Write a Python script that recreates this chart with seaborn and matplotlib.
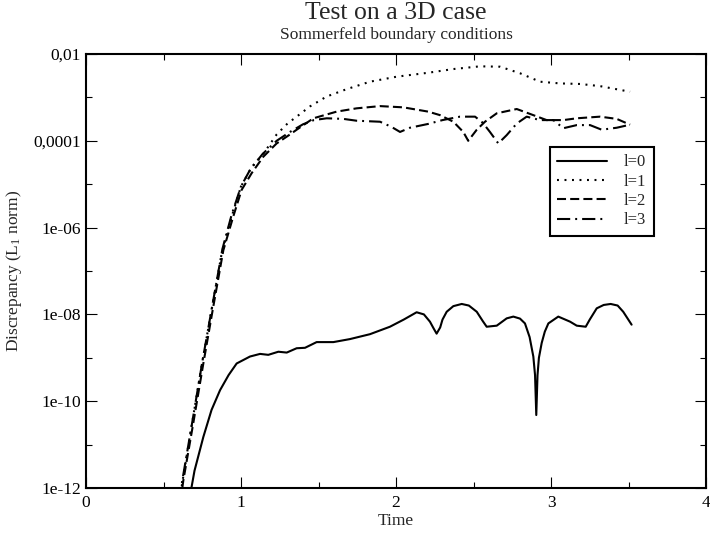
import matplotlib
matplotlib.use("Agg")
import matplotlib.pyplot as plt
import seaborn as sns
from matplotlib.ticker import FixedLocator, FixedFormatter, NullFormatter

# ---------------- data ----------------
t_l0 = [0.665, 0.68, 0.70, 0.757, 0.81, 0.865, 0.92, 0.972, 1.058, 1.123, 1.176,
        1.241, 1.295, 1.359, 1.413, 1.488, 1.596, 1.703, 1.832, 1.961, 2.05, 2.133,
        2.18, 2.219, 2.242, 2.262, 2.285, 2.30, 2.327, 2.37, 2.424, 2.47, 2.521,
        2.56, 2.585, 2.650, 2.714, 2.757, 2.80, 2.832, 2.862, 2.886, 2.897, 2.905,
        2.913, 2.922, 2.94, 2.96, 2.983, 3.047, 3.123, 3.166, 3.224, 3.25, 3.295,
        3.34, 3.385, 3.43, 3.466, 3.52]
v_l0 = [5.0e-13, 1.0e-12, 2.5e-12, 1.5e-11, 6.3e-11, 1.8e-10, 4.0e-10, 7.4e-10,
        1.07e-9, 1.23e-9, 1.17e-9, 1.38e-9, 1.32e-9, 1.66e-9, 1.70e-9, 2.3e-9,
        2.3e-9, 2.7e-9, 3.5e-9, 5.2e-9, 7.6e-9, 1.12e-8, 1.0e-8, 6.8e-9, 4.8e-9,
        3.6e-9, 5.0e-9, 7.6e-9, 1.15e-8, 1.55e-8, 1.74e-8, 1.6e-8, 1.15e-8,
        7.0e-9, 5.2e-9, 5.5e-9, 8.1e-9, 8.9e-9, 8.0e-9, 6.2e-9, 3.0e-9, 1.07e-9,
        4.0e-10, 4.8e-11, 4.0e-10, 1.0e-9, 2.2e-9, 4.0e-9, 6.2e-9, 8.9e-9, 6.8e-9,
        5.5e-9, 5.2e-9, 7.6e-9, 1.38e-8, 1.65e-8, 1.74e-8, 1.6e-8, 1.15e-8, 5.8e-9]

t_l1 = [0.605, 0.62, 0.68, 0.745, 0.81, 0.875, 0.94, 1.0, 1.07, 1.144, 1.23, 1.30,
        1.359, 1.445, 1.553, 1.682, 1.832, 2.004, 2.155, 2.208, 2.370, 2.542,
        2.671, 2.8, 2.929, 3.058, 3.187, 3.316, 3.51]
v_l1 = [5.0e-13, 1.26e-12, 2.5e-11, 6.3e-10, 1.26e-8, 2.5e-7, 1.8e-6, 8.9e-6,
        2.5e-5, 5.0e-5, 1.4e-4, 2.5e-4, 3.6e-4, 6.2e-4, 1.05e-3, 1.55e-3, 2.3e-3,
        3.0e-3, 3.5e-3, 3.7e-3, 4.5e-3, 5.2e-3, 5.1e-3, 3.6e-3, 2.3e-3, 2.1e-3,
        2.04e-3, 1.82e-3, 1.35e-3]

t_l2 = [0.61, 0.628, 0.692, 0.757, 0.821, 0.886, 0.950, 1.004, 1.069, 1.144, 1.230,
        1.316, 1.359, 1.467, 1.617, 1.746, 1.897, 2.047, 2.208, 2.284, 2.370,
        2.434, 2.466, 2.521, 2.574, 2.65, 2.779, 2.886, 2.972, 3.08, 3.166, 3.316,
        3.424, 3.51]
v_l2 = [5.0e-13, 1.5e-12, 3.1e-11, 7.4e-10, 1.5e-8, 3.0e-7, 1.8e-6, 7.4e-6,
        1.8e-5, 4.3e-5, 8.7e-5, 1.4e-4, 1.8e-4, 3.3e-4, 4.7e-4, 5.6e-4, 6.3e-4,
        5.9e-4, 4.7e-4, 3.9e-4, 2.75e-4, 1.6e-4, 1.0e-4, 1.8e-4, 2.75e-4, 4.3e-4,
        5.4e-4, 3.9e-4, 3.0e-4, 3.0e-4, 3.3e-4, 3.6e-4, 3.2e-4, 2.35e-4]

t_l3 = [0.603, 0.62, 0.685, 0.75, 0.815, 0.88, 0.94, 1.0, 1.06, 1.14, 1.23, 1.316,
        1.40, 1.47, 1.553, 1.66, 1.746, 1.897, 1.97, 2.026, 2.09, 2.208, 2.30,
        2.413, 2.51, 2.56, 2.606, 2.66, 2.714, 2.779, 2.843, 2.929, 3.015, 3.08,
        3.166, 3.252, 3.327, 3.424, 3.51]
v_l3 = [5.0e-13, 1.4e-12, 3.2e-11, 7.9e-10, 1.6e-8, 3.2e-7, 2.0e-6, 8.9e-6,
        2.2e-5, 5.0e-5, 1.0e-4, 1.6e-4, 2.4e-4, 3.0e-4, 3.3e-4, 3.2e-4, 2.9e-4,
        2.75e-4, 2.1e-4, 1.6e-4, 2.0e-4, 2.45e-4, 3.0e-4, 3.6e-4, 3.6e-4, 2.6e-4,
        1.6e-4, 8.7e-5, 1.35e-4, 2.5e-4, 3.6e-4, 3.0e-4, 3.0e-4, 1.95e-4, 2.3e-4,
        2.3e-4, 1.8e-4, 2.0e-4, 2.35e-4]

series_labels = ["l=0", "l=1", "l=2", "l=3"]
y_tick_values = [1e-12, 1e-10, 1e-8, 1e-6, 1e-4, 1e-2]
y_tick_labels = ["1e-12", "1e-10", "1e-08", "1e-06", "0,0001", "0,01"]
y_minor_values = [1e-11, 1e-9, 1e-7, 1e-5, 1e-3]
x_tick_values = [0, 1, 2, 3, 4]
x_tick_labels = ["0", "1", "2", "3", "4"]
x_minor_values = [0.5, 1.5, 2.5, 3.5]

# ---------------- style ----------------
sns.set_style("ticks")
plt.rcParams["font.family"] = ["Liberation Serif", "DejaVu Serif"]
plt.rcParams["mathtext.fontset"] = "custom"
plt.rcParams["mathtext.rm"] = "Liberation Serif"
plt.rcParams["mathtext.default"] = "regular"
plt.rcParams["lines.scale_dashes"] = False

fig = plt.figure(figsize=(7.1, 5.35), dpi=100)
ax = fig.add_axes([86 / 710, 1 - 488 / 535, 620 / 710, 434 / 535])

styles = ["-", (0, (1.4, 4.0)), (0, (6.5, 3.0)), (0, (9.5, 3.6, 1.4, 3.6))]
data = [(t_l0, v_l0), (t_l1, v_l1), (t_l2, v_l2), (t_l3, v_l3)]
for (tt, vv), ls, lab in zip(data, styles, series_labels):
    sns.lineplot(x=tt, y=vv, ax=ax, color="black", linewidth=1.5,
                 linestyle=ls, label=lab, sort=False, estimator=None)

ax.set_yscale("log")
ax.set_xlim(0, 4)
ax.set_ylim(1e-12, 1e-2)

ax.yaxis.set_major_locator(FixedLocator(y_tick_values))
ax.yaxis.set_major_formatter(FixedFormatter(y_tick_labels))
ax.yaxis.set_minor_locator(FixedLocator(y_minor_values))
ax.yaxis.set_minor_formatter(NullFormatter())
ax.xaxis.set_major_locator(FixedLocator(x_tick_values))
ax.xaxis.set_major_formatter(FixedFormatter(x_tick_labels))
ax.xaxis.set_minor_locator(FixedLocator(x_minor_values))

ax.tick_params(which="both", direction="in", top=True, right=True,
               color="black", width=0.8, labelsize=12.5, labelcolor="black")
ax.tick_params(which="major", length=8)
ax.tick_params(which="minor", length=4.5)
ax.tick_params(axis="x", which="major", pad=5)
ax.tick_params(axis="y", which="major", pad=3.5)

for sp in ax.spines.values():
    sp.set_linewidth(1.5)
    sp.set_color("black")

ax.set_xlabel("Time", fontsize=12.5)
ax.set_ylabel("Discrepancy (L$_1$ norm)", fontsize=12.5)
ax.xaxis.set_label_coords(0.5, -0.057)
ax.yaxis.set_label_coords(-0.100, 0.5)

leg = ax.legend(loc="upper left", bbox_to_anchor=(0.748, 0.786),
                borderaxespad=0, fancybox=False, framealpha=1,
                edgecolor="black", fontsize=12, handlelength=3.0,
                labelspacing=0.2, borderpad=0.45, handletextpad=1.0)
leg.get_frame().set_linewidth(1.5)

fig.text(396 / 710, 1 - 13 / 535, "Test on a 3D case", ha="center", va="center",
         fontsize=18.5)
fig.text(396 / 710, 1 - 35 / 535, "Sommerfeld boundary conditions", ha="center",
         va="center", fontsize=12.5)

fig.savefig("out.png", dpi=100)
